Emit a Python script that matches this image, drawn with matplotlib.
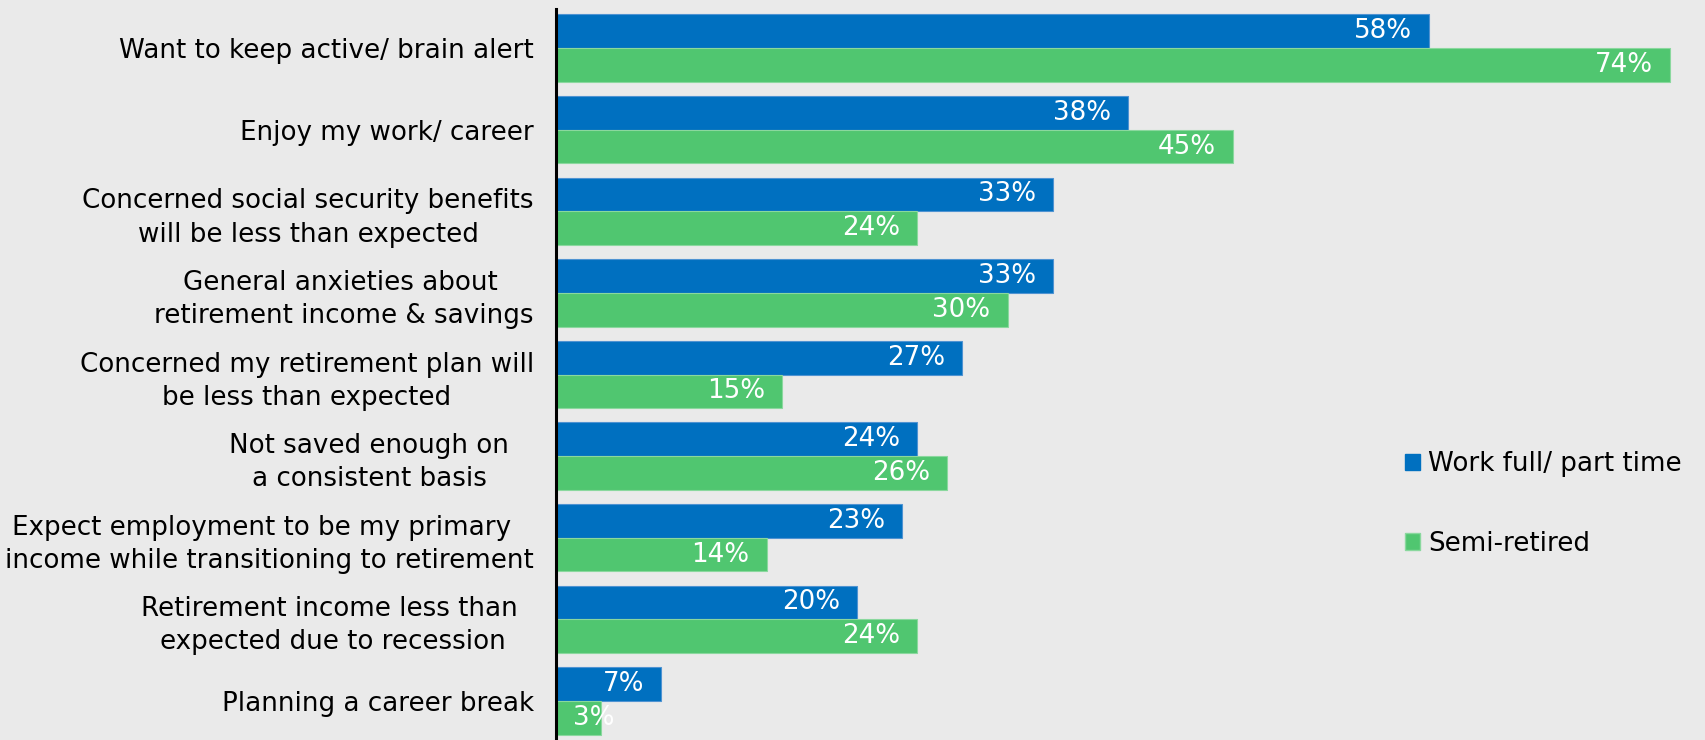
import matplotlib.pyplot as plt
import numpy as np
from matplotlib.patches import Patch

plt.rcParams['font.family'] = ['DejaVu Sans']

categories = [
    'Want to keep active/ brain alert',
    'Enjoy my work/ career',
    'Concerned social security benefits\nwill be less than expected',
    'General anxieties about \nretirement income & savings',
    'Concerned my retirement plan will\nbe less than expected',
    'Not saved enough on   \na consistent basis   ',
    'Expect employment to be my primary  \nincome while transitioning to retirement',
    'Retirement income less than  \nexpected due to recession ',
    'Planning a career break',
]
work_full_part = [58, 38, 33, 33, 27, 24, 23, 20, 7]
semi_retired = [74, 45, 24, 30, 15, 26, 14, 24, 3]
series_names = ['Work full/ part time', 'Semi-retired']

blue = '#0070C0'
green = '#50C670'
bg = '#EAEAEA'
fs = 18.8

fig = plt.figure(figsize=(17.06, 7.40), dpi=100, facecolor=bg)
ax = fig.add_axes([556 / 1706, 0, 1150 / 1706, 731 / 740])
ax.set_facecolor(bg)

y = np.arange(len(categories))
h = 0.413
b1 = ax.barh(y - h / 2, work_full_part, h, color=blue, edgecolor='#4F93D2', linewidth=0.8)
b2 = ax.barh(y + h / 2, semi_retired, h, color=green, edgecolor='#8AD89E', linewidth=0.8)

ax.set_xlim(0, 76.4)
ax.set_ylim(len(categories) - 1 + 0.48, -0.48)

ax.set_yticks(y)
ax.set_yticklabels(categories, fontsize=fs, multialignment='center', linespacing=1.36)
ax.tick_params(axis='y', length=0, pad=16)
ax.set_xticks([])
for s in ['top', 'right', 'bottom']:
    ax.spines[s].set_visible(False)
ax.spines['left'].set_color('black')
ax.spines['left'].set_linewidth(2.2)


def label_bars(rects, values):
    for rect, v in zip(rects, values):
        yc = rect.get_y() + rect.get_height() / 2
        if v < 5:
            # too short for an inside label: start it just right of the axis
            ax.annotate(f'{v}%', xy=(0, yc), xytext=(17, 0), textcoords='offset pixels',
                        ha='left', va='center', color='white', fontsize=fs)
        else:
            ax.annotate(f'{v}%', xy=(v, yc), xytext=(-17, 0), textcoords='offset pixels',
                        ha='right', va='center', color='white', fontsize=fs)


label_bars(b1, work_full_part)
label_bars(b2, semi_retired)

handles = [Patch(facecolor=blue, edgecolor=blue), Patch(facecolor=green, edgecolor='#8AD89E')]
fig.legend(handles, series_names, loc='center left', bbox_to_anchor=(1405 / 1706, 1 - 504 / 740),
           bbox_transform=fig.transFigure, frameon=False, fontsize=fs,
           handlelength=0.58, handleheight=0.58, handletextpad=0.3,
           labelspacing=2.05, borderpad=0, borderaxespad=0)

fig.savefig('out.png', dpi=100, facecolor=bg)
